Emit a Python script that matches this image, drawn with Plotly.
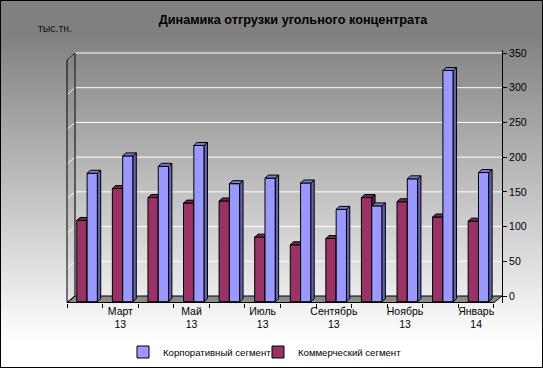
import base64
import plotly.graph_objects as go

# ---------------- data ----------------
months = ["Февраль", "Март", "Апрель", "Май", "Июнь", "Июль", "Август",
          "Сентябрь", "Октябрь", "Ноябрь", "Декабрь", "Январь"]
years = ["13", "13", "13", "13", "13", "13", "13", "13", "13", "13", "13", "14"]
corporate = [185, 210, 195, 225, 170, 178, 171, 133, 138, 177, 333, 186]
commercial = [117, 163, 150, 142, 145, 93, 82, 91, 150, 144, 122, 116]
y_ticks = [0, 50, 100, 150, 200, 250, 300, 350]
title_text = "Динамика отгрузки угольного концентрата"
unit_text = "тыс.тн."
name_corp = "Корпоративный сегмент"
name_comm = "Коммерческий сегмент"

# ---------------- geometry (style) ----------------
W, H = 543, 368
ML, MR, MT, MB = 62, 41, 50, 65
X_RANGE = [-0.6405, 11.726]
Y_RANGE = [-10.08, 354.32]
SX = 0.2248        # depth shift of the back wall (x units)
SY = 10.08         # depth shift of the back wall (y units)
BASE = -8.2        # front face base of the bars
FLOOR_FRONT = -9.4
BW = 0.29          # bar width
SPLIT = 0.065      # boundary between the two bars of a group
DX, DY = 0.093, 4.3  # bar depth

n = len(months)
xs = list(range(n))
x_left, x_right = -0.5, n - 0.5

# gradient background with border as inline svg image
svg = f'''<svg xmlns="http://www.w3.org/2000/svg" width="{W}" height="{H}" viewBox="0 0 {W} {H}" preserveAspectRatio="none">
<defs><linearGradient id="g" x1="0" y1="0" x2="0" y2="1">
<stop offset="0" stop-color="#808080"/><stop offset="0.09" stop-color="#808080"/>
<stop offset="0.93" stop-color="#ffffff"/><stop offset="1" stop-color="#ffffff"/></linearGradient></defs>
<rect x="0" y="0" width="{W}" height="{H}" fill="url(#g)" stroke="#000000" stroke-width="2"/></svg>'''
src = "data:image/svg+xml;base64," + base64.b64encode(svg.encode("utf-8")).decode("ascii")
pw, ph = W - ML - MR, H - MT - MB

fig = go.Figure()


def faces(values, x_off, color_side, color_cap, xa, ya):
    sx_, sy_, cx_, cy_ = [], [], [], []
    for x, v in zip(xs, values):
        x0 = x + x_off
        x1 = x0 + BW
        top = BASE + v
        sx_ += [x1, x1 + DX, x1 + DX, x1, x1, None]
        sy_ += [BASE, BASE + DY, top + DY, top, BASE, None]
        cx_ += [x0, x1, x1 + DX, x0 + DX, x0, None]
        cy_ += [top, top, top + DY, top + DY, top, None]
    fig.add_trace(go.Scatter(x=sx_, y=sy_, mode="lines", fill="toself", fillcolor=color_side,
                             line=dict(color="black", width=1), showlegend=False,
                             hoverinfo="skip", xaxis=xa, yaxis=ya))
    fig.add_trace(go.Scatter(x=cx_, y=cy_, mode="lines", fill="toself", fillcolor=color_cap,
                             line=dict(color="black", width=1), showlegend=False,
                             hoverinfo="skip", xaxis=xa, yaxis=ya))


# commercial (left bar) on main subplot
fig.add_trace(go.Bar(x=xs, y=commercial, base=BASE, width=BW, offset=SPLIT - BW,
                     name=name_comm, marker=dict(color="#993366", line=dict(color="black", width=1)),
                     legend="legend2", xaxis="x", yaxis="y"))
faces(commercial, SPLIT - BW, "#5c1c3d", "#72264d", "x", "y")
# corporate (right bar) on overlay subplot, drawn above
fig.add_trace(go.Bar(x=xs, y=corporate, base=BASE, width=BW, offset=SPLIT,
                     name=name_corp, marker=dict(color="#9999FF", line=dict(color="black", width=1)),
                     legend="legend", xaxis="x2", yaxis="y2"))
faces(corporate, SPLIT, "#6262ad", "#7b7bcf", "x2", "y2")

shapes = []
# floor
shapes.append(dict(type="path", xref="x", yref="y", layer="below",
                   path=f"M{x_left},{FLOOR_FRONT} L{x_right},{FLOOR_FRONT} L{x_right + SX},0 L{x_left + SX},0 Z",
                   fillcolor="#8a8a8a", line=dict(color="black", width=1)))
# gridlines on back wall + stubs on left wall
for g in y_ticks[1:]:
    shapes.append(dict(type="path", xref="x", yref="y", layer="below",
                       path=f"M{x_left},{g - SY} L{x_left + SX},{g} L{x_right + SX},{g}",
                       line=dict(color="white", width=1)))
# left wall
shapes.append(dict(type="path", xref="x", yref="y", layer="below",
                   path=f"M{x_left},{FLOOR_FRONT} L{x_left},{y_ticks[-1] - SY} L{x_left + SX},{y_ticks[-1]} L{x_left + SX},0 Z",
                   fillcolor="rgba(0,0,0,0.04)", line=dict(color="black", width=1)))
shapes.append(dict(type="line", xref="x", yref="y", layer="below",
                   x0=x_left + SX, x1=x_left + SX, y0=0, y1=y_ticks[-1],
                   line=dict(color="#555555", width=1)))

font = "Liberation Sans, Arial, sans-serif"
leg_common = dict(orientation="h", xanchor="left", yanchor="middle", y=(303 - 352) / ph,
                  font=dict(family=font, size=9.6, color="black"), bgcolor="rgba(0,0,0,0)",
                  borderwidth=0, itemwidth=30)
fig.update_layout(
    template="none",
    width=W, height=H, autosize=False,
    margin=dict(l=ML, r=MR, t=MT, b=MB, pad=0, autoexpand=False),
    paper_bgcolor="white", plot_bgcolor="rgba(0,0,0,0)",
    barmode="overlay",
    font=dict(family=font, size=10, color="black"),
    images=[dict(source=src, xref="paper", yref="paper", x=-ML / pw, y=1 + MT / ph,
                 sizex=W / pw, sizey=H / ph, xanchor="left", yanchor="top",
                 sizing="stretch", layer="below")],
    shapes=shapes,
    title=dict(text=f"<b>{title_text}</b>", x=293 / W, xanchor="center", xref="container",
               y=1 - 20 / H, yanchor="middle", yref="container",
               font=dict(family=font, size=12.7, color="black")),
    annotations=[dict(text=unit_text, xref="paper", yref="paper",
                      x=(36 - ML) / pw, y=1 + (MT - 28) / ph, xanchor="left", yanchor="middle",
                      showarrow=False, font=dict(family=font, size=10.5, color="#111111"))],
    xaxis=dict(range=X_RANGE, showgrid=False, zeroline=False, showline=False, automargin=False,
               tickmode="array", tickvals=xs[1::2],
               ticktext=[f"{m}<br>{y}" for m, y in zip(months[1::2], years[1::2])],
               ticks="", tickfont=dict(size=10.5),
               minor=dict(tickmode="array", tickvals=[x - 0.5 for x in xs] + [x_right],
                          ticks="outside", ticklen=4, tickcolor="black", tickwidth=1, showgrid=False)),
    yaxis=dict(range=Y_RANGE, side="right", showgrid=False, zeroline=False, automargin=False,
               showline=True, linecolor="black", linewidth=1,
               tickmode="array", tickvals=y_ticks, ticks="outside", ticklen=4,
               tickcolor="black", tickfont=dict(size=10.5)),
    xaxis2=dict(range=X_RANGE, overlaying="x", visible=False, automargin=False),
    yaxis2=dict(range=Y_RANGE, overlaying="y", visible=False, automargin=False),
    legend=dict(leg_common, x=(163 - 40 - ML) / pw),
    legend2=dict(leg_common, x=(298 - 40 - ML) / pw),
    hovermode=False,
)

fig.write_html("out.html", config={"displayModeBar": False, "staticPlot": True},
               post_script="document.body.style.margin='0';document.body.style.overflow='hidden';")
